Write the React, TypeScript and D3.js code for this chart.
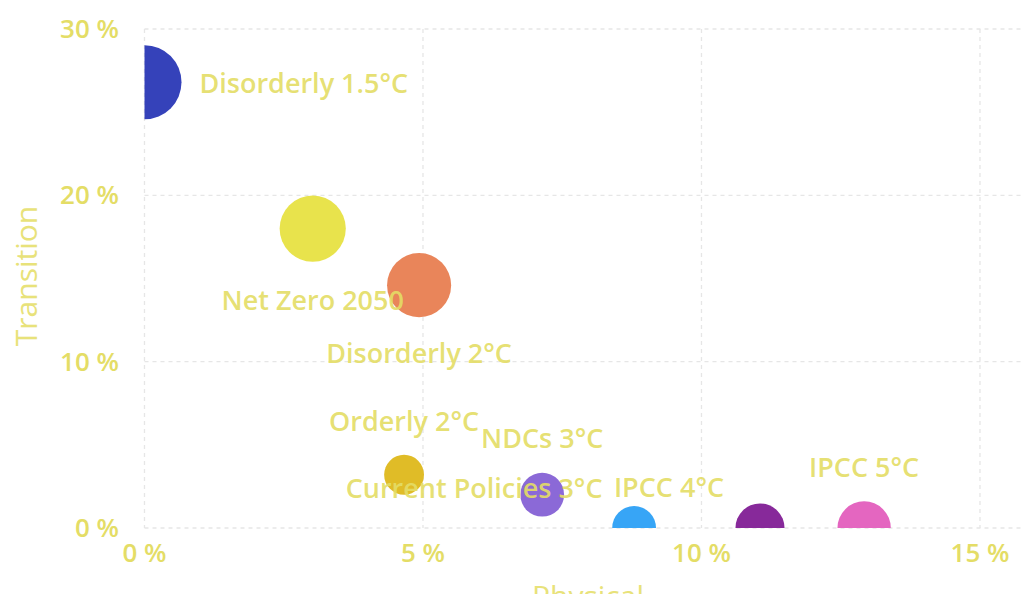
import React from "react";
import * as d3 from "d3";

const scenarios = [
  "Disorderly 1.5°C",
  "Net Zero 2050",
  "Disorderly 2°C",
  "Orderly 2°C",
  "NDCs 3°C",
  "Current Policies 3°C",
  "IPCC 4°C",
  "IPCC 5°C",
];
const physical = [0, 3.02, 4.93, 4.66, 7.14, 8.79, 11.05, 12.92];
const transition = [26.8, 18.0, 14.6, 3.2, 2.0, 0, 0, 0];
const bubbleSize = [100, 80, 75, 29, 35, 35, 44, 52];
const xTicks = [0, 5, 10, 15];
const yTicks = [0, 10, 20, 30];
const colors = ["#3542BA", "#E8E34C", "#E9855A", "#E0BC27", "#8B69D7", "#37A5F6", "#87299A", "#E466C0"];

// label placement (layout, px offsets from bubble centre)
const labelLayout = [
  { anchor: "start", dx: 55, dy: 11 },
  { anchor: "middle", dx: 0, dy: 81 },
  { anchor: "middle", dx: 0, dy: 78 },
  { anchor: "middle", dx: 0, dy: -44 },
  { anchor: "middle", dx: 0, dy: -47 },
  { anchor: "middle", dx: -160, dy: -30 },
  { anchor: "middle", dx: -91, dy: -31 },
  { anchor: "middle", dx: 0, dy: -51 },
];

const W = 1022;
const H = 594;
const TEXT = "#E4DD66";
const FONT = "'Open Sans', 'Noto Sans', sans-serif";

export default function App() {
  const x = d3.scaleLinear().domain([0, 15]).range([144.5, 980]);
  const y = d3.scaleLinear().domain([0, 30]).range([528, 29]);
  const r = d3.scaleSqrt().domain([0, 100]).range([0, 37]);
  const left = x(0);
  const bottom = y(0);

  return (
    <svg
      width={W}
      height={H}
      style={{ position: "fixed", left: 0, top: 0, background: "#fff" }}
    >
      <defs>
        <clipPath id="plot">
          <rect x={left} y={0} width={W - left} height={bottom} />
        </clipPath>
      </defs>
      {/* gridlines */}
      {yTicks.map((t) => (
        <line
          key={"gy" + t}
          x1={left}
          x2={W}
          y1={y(t)}
          y2={y(t)}
          stroke="#E6E6E6"
          strokeWidth={1.3}
          strokeDasharray="4,4"
        />
      ))}
      {xTicks.map((t) => (
        <line
          key={"gx" + t}
          x1={x(t)}
          x2={x(t)}
          y1={y(30)}
          y2={bottom}
          stroke="#E6E6E6"
          strokeWidth={1.3}
          strokeDasharray="4,4"
        />
      ))}
      {/* y tick labels */}
      {yTicks.map((t) => (
        <text
          key={"ty" + t}
          x={119}
          y={y(t)}
          dy="0.35em"
          textAnchor="end"
          fill={TEXT}
          fontFamily={FONT}
          fontWeight={600}
          fontSize={26}
        >
          {t} %
        </text>
      ))}
      {/* x tick labels */}
      {xTicks.map((t) => (
        <text
          key={"tx" + t}
          x={x(t)}
          y={553}
          dy="0.35em"
          textAnchor="middle"
          fill={TEXT}
          fontFamily={FONT}
          fontWeight={600}
          fontSize={26}
        >
          {t} %
        </text>
      ))}
      {/* axis titles */}
      <text
        transform={`translate(37,276) rotate(-90)`}
        textAnchor="middle"
        fill="#E8E27A"
        fontFamily={FONT}
        fontSize={30}
      >
        Transition
      </text>
      <text
        x={588}
        y={607}
        textAnchor="middle"
        fill="#E8E27A"
        fontFamily={FONT}
        fontSize={30}
      >
        Physical
      </text>
      {/* bubbles */}
      <g clipPath="url(#plot)">
        {scenarios.map((s, i) => (
          <circle
            key={s}
            cx={x(physical[i])}
            cy={y(transition[i])}
            r={r(bubbleSize[i])}
            fill={colors[i]}
          />
        ))}
      </g>
      {/* labels */}
      {scenarios.map((s, i) => (
        <text
          key={"l" + s}
          x={x(physical[i]) + labelLayout[i].dx}
          y={y(transition[i]) + labelLayout[i].dy}
          textAnchor={labelLayout[i].anchor as any}
          fill={TEXT}
          fillOpacity={0.92}
          fontFamily={FONT}
          fontWeight={600}
          fontSize={27}
        >
          {s}
        </text>
      ))}
    </svg>
  );
}
